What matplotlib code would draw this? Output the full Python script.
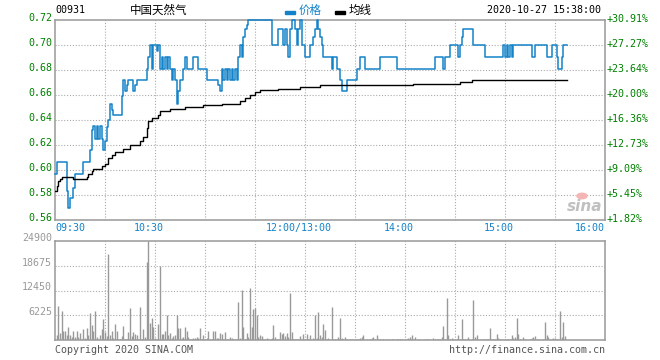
import numpy as np
import matplotlib.pyplot as plt

# price per minute, stored as runs of equal value (value, minutes)
price_vals = [0.597, 0.606, 0.583, 0.569, 0.577, 0.585, 0.597, 0.606, 0.616, 0.632, 0.635, 0.625,
              0.635, 0.625, 0.635, 0.625, 0.616, 0.623, 0.634, 0.640, 0.653, 0.648, 0.6435, 0.659,
              0.672, 0.663, 0.668, 0.672, 0.663, 0.668, 0.672, 0.681, 0.690, 0.700, 0.681, 0.700,
              0.695, 0.700, 0.681, 0.690, 0.681, 0.690, 0.681, 0.690, 0.681, 0.672, 0.681, 0.672,
              0.653, 0.663, 0.672, 0.681, 0.690, 0.681, 0.690, 0.681, 0.672, 0.668, 0.663, 0.681,
              0.672, 0.681, 0.672, 0.681, 0.672, 0.681, 0.672, 0.681, 0.672, 0.690, 0.700, 0.690,
              0.706, 0.713, 0.716, 0.720, 0.700, 0.713, 0.700, 0.713, 0.700, 0.690, 0.713, 0.720,
              0.713, 0.700, 0.713, 0.720, 0.700, 0.690, 0.700, 0.706, 0.713, 0.720, 0.713, 0.706,
              0.700, 0.690, 0.681, 0.690, 0.681, 0.672, 0.663, 0.672, 0.681, 0.690, 0.681, 0.690,
              0.681, 0.690, 0.681, 0.690, 0.700, 0.690, 0.700, 0.706, 0.713, 0.700, 0.690, 0.700,
              0.690, 0.700, 0.690, 0.700, 0.690, 0.700, 0.690, 0.700, 0.690, 0.700, 0.690, 0.681,
              0.690, 0.700]
price_runs = [1, 6, 1, 1, 2, 1, 5, 4, 1, 1, 1, 1,
              1, 1, 1, 1, 1, 1, 1, 1, 1, 1, 5, 1,
              1, 1, 1, 3, 1, 1, 6, 1, 1, 1, 1, 2,
              1, 1, 1, 1, 1, 1, 1, 1, 1, 1, 1, 1,
              1, 1, 2, 1, 1, 4, 3, 5, 7, 1, 1, 1,
              1, 1, 1, 1, 1, 1, 1, 1, 1, 1, 1, 1,
              1, 1, 1, 14, 4, 3, 1, 1, 1, 1, 1, 2,
              1, 1, 1, 1, 2, 3, 2, 1, 1, 1, 1, 1,
              1, 5, 1, 2, 2, 1, 3, 6, 2, 3, 9, 10,
              23, 5, 1, 3, 5, 1, 1, 1, 6, 7, 11, 1,
              1, 1, 1, 1, 1, 11, 2, 7, 3, 3, 1, 2,
              1, 3]

avg_vals = [0.5827, 0.5867, 0.5907, 0.5925, 0.5939, 0.5925, 0.5939, 0.5965, 0.5987, 0.6008,
            0.6027, 0.6048, 0.6093, 0.612, 0.6139, 0.6165, 0.6195, 0.6227, 0.6259, 0.6333,
            0.6387, 0.6413, 0.6435, 0.6467, 0.6488, 0.6504, 0.6515, 0.6525, 0.6552, 0.6573,
            0.66, 0.6627, 0.664, 0.6651, 0.6667, 0.668, 0.6691, 0.6701, 0.6717, 0.6723]
avg_runs = [1, 1, 1, 1, 7, 8, 1, 2, 1, 5,
            2, 2, 2, 2, 5, 4, 6, 2, 2, 1,
            2, 4, 1, 6, 9, 11, 11, 11, 3, 3,
            3, 3, 11, 13, 12, 56, 28, 7, 36, 22]

volume = [0, 1330, 8500, 1830, 7250, 2250, 2250, 1250, 3250, 1250, 750,
          2250, 750, 2250, 750, 1830, 330, 2830, 580, 3080, 1250,
          6830, 3750, 2250, 7250, 830, 330, 1250, 2830, 5330, 2000,
          1000, 21580, 1250, 2250, 580, 4080, 2250, 330, 330, 1170,
          3500, 330, 330, 2000, 8080, 1170, 2000, 1580, 1250, 330,
          8330, 330, 2830, 750, 19580, 24900, 4330, 5580, 3330, 580,
          330, 4080, 18580, 1580, 1580, 2250, 6250, 1250, 1830, 580,
          1170, 1250, 6250, 3080, 3080, 580, 750, 3330, 2250, 830,
          420, 420, 580, 580, 830, 580, 3080, 330, 1250, 330,
          580, 2250, 330, 330, 2250, 2250, 580, 580, 1830, 1580,
          330, 2000, 330, 330, 830, 580, 330, 330, 330, 9580,
          580, 12500, 3250, 330, 1830, 830, 13080, 3250, 7830, 8080,
          6250, 830, 1250, 1000, 330, 330, 580, 330, 330, 580,
          3750, 830, 330, 330, 2000, 1580, 1830, 1000, 1830, 830,
          11830, 2000, 330, 330, 330, 330, 1170, 330, 1580, 330,
          1580, 330, 1250, 0, 580, 6400, 580, 7080, 1250, 750,
          4080, 2670, 330, 580, 0, 8330, 330, 330, 330, 830,
          5580, 580, 330, 830, 330, 0, 330, 330, 0, 330,
          330, 330, 580, 830, 1250, 0, 330, 0, 330, 580,
          830, 330, 1250, 330, 330, 0, 330, 0, 0, 330,
          0, 330, 330, 0, 330, 330, 330, 330, 0, 0,
          330, 580, 830, 1250, 330, 830, 0, 330, 0, 0,
          0, 330, 330, 330, 0, 0, 580, 330, 330, 330,
          330, 830, 3500, 330, 10580, 1250, 330, 580, 330, 0,
          330, 1250, 330, 5330, 330, 330, 330, 830, 0, 330,
          10080, 830, 1250, 0, 330, 0, 330, 330, 330, 330,
          3080, 330, 330, 330, 1580, 580, 330, 330, 0, 330,
          330, 330, 330, 1250, 580, 830, 5580, 1580, 330, 0,
          830, 330, 0, 0, 330, 580, 830, 1000, 330, 330,
          0, 0, 330, 4580, 1250, 830, 330, 330, 580, 580,
          330, 330, 7410, 750, 4580, 1000, 0]

price_ticks = [0.56, 0.58, 0.60, 0.62, 0.64, 0.66, 0.68, 0.70, 0.72]
pct_labels = ['+1.82%', '+5.45%', '+9.09%', '+12.73%', '+16.36%', '+20.00%',
              '+23.64%', '+27.27%', '+30.91%']
vol_ticks = [6225, 12450, 18675, 24900]
time_pos = [0, 60, 150, 210, 270, 330]
time_labels = ['09:30', '10:30', '12:00/13:00', '14:00', '15:00', '16:00']

price = np.repeat(price_vals, price_runs)
avg = np.repeat(avg_vals, avg_runs)
t = np.arange(len(price))

W, H = 660, 360
MONO = 'DejaVu Sans Mono'
BLUE = '#1482c8'
GREEN = '#008000'
GRAY = '#999999'

fig = plt.figure(figsize=(W / 100, H / 100), dpi=100)
ax = fig.add_axes([55 / W, 1 - 219.7 / H, 550 / W, 199.7 / H])
axv = fig.add_axes([55 / W, 1 - 340.3 / H, 550 / W, 99.6 / H])

for a in (ax, axv):
    a.set_xlim(0, 330)
    a.set_xticks(range(30, 330, 30))
    a.tick_params(length=0, labelleft=False, labelbottom=False)
    a.grid(True, color='#aaaaaa', linestyle=(0, (1, 1.6)), linewidth=0.8)
    for s in a.spines.values():
        s.set_color(GRAY)
        s.set_linewidth(1.1)

ax.set_ylim(0.56, 0.72)
ax.set_yticks(price_ticks[1:-1])
ax.plot(t, price, color=BLUE, lw=1.1, drawstyle='steps-post', zorder=3, clip_on=False)
ax.plot(t, avg, color='black', lw=1.0, drawstyle='steps-post', zorder=3)

for v, p in zip(price_ticks, pct_labels):
    ax.annotate('%.2f' % v, xy=(0, v), xycoords=('axes fraction', 'data'),
                xytext=(-3, 2), textcoords='offset pixels', ha='right', va='center',
                color=GREEN, fontsize=7.2, family=MONO)
    ax.annotate(p, xy=(1, v), xycoords=('axes fraction', 'data'),
                xytext=(2, 1), textcoords='offset pixels', ha='left', va='center',
                color=GREEN, fontsize=7.2, family=MONO)

for i, (m, lab) in enumerate(zip(time_pos, time_labels)):
    if i == 0:
        ha, dx = 'left', 0
    elif i == len(time_pos) - 1:
        ha, dx = 'right', 0
    else:
        ha, dx = 'center', -6
    ax.annotate(lab, xy=(m, 0), xycoords=('data', 'axes fraction'),
                xytext=(dx, -8), textcoords='offset pixels', ha=ha, va='center',
                color=BLUE, fontsize=7.2, family=MONO)

axv.set_ylim(0, 24900)
axv.set_yticks(vol_ticks[:-1])
axv.vlines(np.arange(len(volume)), 0, volume, color=GRAY, lw=1.0)
for v in vol_ticks:
    axv.annotate(str(v), xy=(0, v), xycoords=('axes fraction', 'data'),
                 xytext=(-3, 3), textcoords='offset pixels', ha='right', va='center',
                 color=GRAY, fontsize=7.2, family=MONO)

# header
fig.text(55 / W, 1 - 10 / H, '00931', color='black', fontsize=7.2, family=MONO, va='center')
fig.text(130 / W, 1 - 10 / H, '中国天然气', color='black', fontsize=8.3,
         family=['Noto Sans CJK SC', 'DejaVu Sans'], va='center')
fig.patches.append(plt.Rectangle((285 / W, 1 - 13.5 / H), 10 / W, 3 / H,
                                 transform=fig.transFigure, color=BLUE))
fig.text(299 / W, 1 - 10 / H, '价格', color=BLUE, fontsize=8.3,
         family=['Noto Sans CJK SC', 'DejaVu Sans'], va='center')
fig.patches.append(plt.Rectangle((335 / W, 1 - 13.5 / H), 10 / W, 3 / H,
                                 transform=fig.transFigure, color='black'))
fig.text(349 / W, 1 - 10 / H, '均线', color='black', fontsize=8.3,
         family=['Noto Sans CJK SC', 'DejaVu Sans'], va='center')
fig.text(601 / W, 1 - 10 / H, '2020-10-27 15:38:00', color='black', fontsize=7.2,
         family=MONO, va='center', ha='right')

# footer
fig.text(55 / W, 1 - 350 / H, 'Copyright 2020 SINA.COM', color='#555555', fontsize=7.2,
         family=MONO, va='center')
fig.text(605 / W, 1 - 350 / H, 'http://finance.sina.com.cn', color='#555555', fontsize=7.2,
         family=MONO, va='center', ha='right')

# sina watermark
fig.patches.append(plt.Circle((582 / W, 1 - 196 / H), 5 / W, transform=fig.transFigure,
                              color='#f5b5b5'))
fig.text(585 / W, 1 - 207 / H, 'sina', color='#c0c0c0', fontsize=11, style='italic',
         weight='bold', va='center', ha='center')

fig.savefig('out.png', dpi=100)
